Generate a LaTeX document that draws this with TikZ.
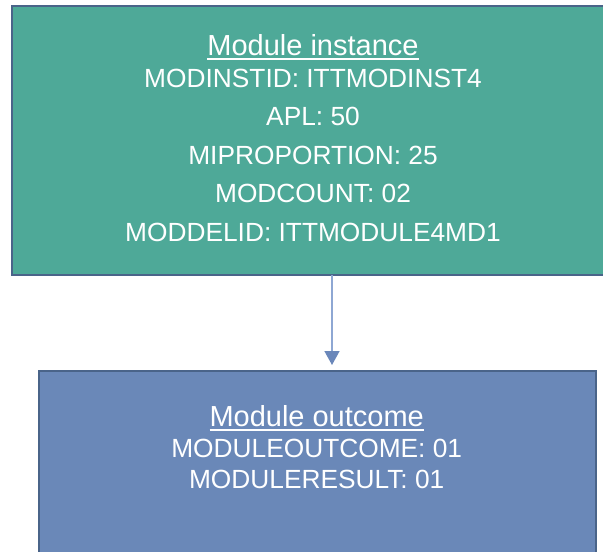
\documentclass[tikz,border=0pt]{standalone}
\usepackage{fontspec}
\setmainfont{Liberation Sans}
\usetikzlibrary{arrows.meta}
\definecolor{tealfill}{HTML}{4EA998}
\definecolor{bluefill}{HTML}{6A88B8}
\definecolor{edgecol}{HTML}{4A6489}
\definecolor{arrline}{HTML}{8EA7D3}
\definecolor{arrhead}{HTML}{6A87BA}
\newcommand\myul[1]{\leavevmode\vtop{\hbox{\fontsize{29}{32}\selectfont #1}\kern2.5pt\hrule height 1.8pt}}
\tikzset{
  boxnode/.style={draw=edgecol, line width=2pt, inner sep=0pt, outer sep=0pt, rectangle},
  txtnode/.style={text=white, align=center, inner sep=0pt, outer sep=0pt, anchor=north},
  conn/.style={draw=arrline, line width=1.6pt, -{Triangle[width=15pt,length=14pt,fill=arrhead,color=arrhead]}}
}
\begin{document}
\begin{tikzpicture}[x=1pt,y=-1pt]
\useasboundingbox (0,0) rectangle (603,552);
\clip (0,0) rectangle (603,552);
\node[boxnode, fill=tealfill, minimum width=602pt, minimum height=269pt] (mi) at (313,140.5) {};
\node[boxnode, fill=bluefill, minimum width=557pt, minimum height=204pt] (mo) at (317.5,473) {};
\node[txtnode, font=\fontsize{26.3}{32}\selectfont] (mitext) at (313,34)
  {\myul{Module instance}\\
   MODINSTID: ITTMODINST4\\[6.5pt]
   APL: 50\\[6.5pt]
   MIPROPORTION: 25\\[6.5pt]
   MODCOUNT: 02\\[6.5pt]
   MODDELID: ITTMODULE4MD1};
\node[txtnode, font=\fontsize{26.3}{31}\selectfont] (motext) at (316.7,405)
  {\myul{Module outcome}\\
   MODULEOUTCOME: 01\\
   MODULERESULT: 01};
\coordinate (ax) at (332,0);
\draw[conn, shorten >=6pt] (mi.south -| ax) -- (mo.north -| ax);
\end{tikzpicture}
\end{document}
